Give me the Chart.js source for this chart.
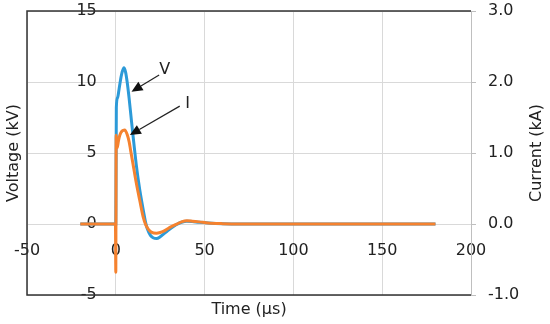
<!DOCTYPE html>
<html><head><meta charset="utf-8">
<script src="https://cdn.jsdelivr.net/npm/chart.js@4.4.1/dist/chart.umd.min.js"></script>
<style>html,body{margin:0;padding:0;background:#fff}#wrap{width:550px;height:324px}</style>
</head><body><div id="wrap"><canvas id="c" width="550" height="324"></canvas></div>
<script>
// Voltage series: time (µs) and voltage (kV)
const timeV = [-20, -0.05, 0, 0.3, 1, 1.9, 3.2, 4.5, 5.5, 6.4, 7.5, 8.5, 9.5, 10.5, 11.5, 12.5, 13.5, 14.5, 15.5, 16.8, 17.8, 19.5, 21, 23, 25, 27, 29, 31, 34, 37, 40, 43, 47, 52, 60, 70, 180];
const voltageKV = [0, 0, 0, 8.2, 8.9, 9.55, 10.5, 11.0, 10.7, 10.0, 8.85, 7.65, 6.45, 5.3, 4.2, 3.25, 2.4, 1.65, 0.95, 0.1, -0.35, -0.8, -0.97, -1.02, -0.9, -0.7, -0.5, -0.3, -0.05, 0.12, 0.2, 0.18, 0.12, 0.07, 0.02, 0, 0];
// Current series: time (µs) and current (kA)
const timeI = [-20, -0.2, 0, 0.2, 0.7, 1.5, 2.25, 3.5, 5, 6.4, 7.5, 8.4, 10, 11.6, 13.5, 15.4, 17, 18.5, 20, 22.9, 25, 27, 29, 31, 34, 37, 40, 43, 47, 52, 60, 70, 180];
const currentKA = [0, 0, -0.68, 1.25, 1.07, 1.17, 1.25, 1.31, 1.325, 1.26, 1.16, 1.03, 0.8, 0.57, 0.33, 0.1, -0.02, -0.08, -0.115, -0.13, -0.12, -0.1, -0.07, -0.04, -0.005, 0.03, 0.045, 0.04, 0.03, 0.015, 0.005, 0, 0];
const xTicks = [-50, 0, 50, 100, 150, 200];
const yTicks = [-5, 0, 5, 10, 15];
const y1Ticks = [-1, 0, 1, 2, 3];
const xTitle = 'Time (µs)';
const yTitle = 'Voltage (kV)';
const y1Title = 'Current (kA)';
// annotations: [label, labelX, labelY, tailX, tailY, tipX, tipY] in (µs, kV)
const notes = [
  ['V', 27.6, 10.85, 24.4, 10.5, 8.85, 9.32],
  ['I', 40.4, 8.45, 36, 8.3, 7.9, 6.27]
];

const FONT = 'DejaVu Sans';
const TXT = '#222';
const GRID = '#d9d9d9';

const pts = (ts, arr) => ts.map((t, i) => ({x: t, y: arr[i]}));

const framePlugin = {
  id: 'frame',
  afterDatasetsDraw(chart) {
    const {ctx, chartArea: a} = chart;
    ctx.save();
    ctx.lineWidth = 1.5;
    ctx.strokeStyle = '#333';
    ctx.beginPath();
    ctx.moveTo(a.right, a.top); ctx.lineTo(a.left, a.top); ctx.lineTo(a.left, a.bottom); ctx.lineTo(a.right, a.bottom);
    ctx.stroke();
    // annotations
    const xs = chart.scales.x, ys = chart.scales.y;
    ctx.font = '16px ' + FONT;
    ctx.fillStyle = TXT;
    ctx.textAlign = 'center';
    ctx.textBaseline = 'middle';
    notes.forEach(n => {
      const lx = xs.getPixelForValue(n[1]), ly = ys.getPixelForValue(n[2]);
      ctx.fillText(n[0], lx, ly);
      const tx = xs.getPixelForValue(n[3]), ty = ys.getPixelForValue(n[4]);
      const px = xs.getPixelForValue(n[5]), py = ys.getPixelForValue(n[6]);
      const ang = Math.atan2(py - ty, px - tx);
      const hl = 11, hw = 5;
      const bx = px - hl * Math.cos(ang), by = py - hl * Math.sin(ang);
      ctx.strokeStyle = '#222'; ctx.lineWidth = 1.2;
      ctx.beginPath(); ctx.moveTo(tx, ty); ctx.lineTo(bx, by); ctx.stroke();
      ctx.beginPath();
      ctx.moveTo(px, py);
      ctx.lineTo(bx + hw * Math.sin(ang), by - hw * Math.cos(ang));
      ctx.lineTo(bx - hw * Math.sin(ang), by + hw * Math.cos(ang));
      ctx.closePath(); ctx.fillStyle = '#111'; ctx.fill();
      ctx.fillStyle = TXT;
    });
    // axis titles
    ctx.font = '16px ' + FONT;
    ctx.textAlign = 'center'; ctx.textBaseline = 'middle';
    ctx.fillText(xTitle, (a.left + a.right) / 2, 310);
    ctx.save(); ctx.translate(14, (a.top + a.bottom) / 2); ctx.rotate(-Math.PI / 2); ctx.fillText(yTitle, 0, 0); ctx.restore();
    ctx.save(); ctx.translate(537, (a.top + a.bottom) / 2); ctx.rotate(-Math.PI / 2); ctx.fillText(y1Title, 0, 0); ctx.restore();
    ctx.restore();
  }
};

new Chart(document.getElementById('c'), {
  type: 'scatter',
  data: {
    datasets: [
      {label: 'I', data: pts(timeI, currentKA), yAxisID: 'y1', showLine: true, borderColor: '#F5822F', backgroundColor: '#F5822F', borderWidth: 3, pointRadius: 0, cubicInterpolationMode: 'monotone', order: 0},
      {label: 'V', data: pts(timeV, voltageKV), yAxisID: 'y', showLine: true, borderColor: '#2C9AD8', backgroundColor: '#2C9AD8', borderWidth: 3, pointRadius: 0, cubicInterpolationMode: 'monotone', order: 1}
    ]
  },
  options: {
    responsive: false, animation: false, devicePixelRatio: 1,
    layout: {padding: {left: 27, top: 11, bottom: 29, right: 0}},
    plugins: {legend: {display: false}, tooltip: {enabled: false}},
    scales: {
      x: {type: 'linear', position: {y: -1.2}, min: -50, max: 200,
          afterBuildTicks: s => { s.ticks = xTicks.map(v => ({value: v})); },
          afterFit: s => { s.height = 0; s.paddingLeft = 0; s.paddingRight = 0; },
          grid: {color: GRID, drawTicks: false, lineWidth: 1},
          border: {display: false},
          ticks: {color: TXT, font: {family: FONT, size: 16}, padding: 0, maxRotation: 0}},
      y: {type: 'linear', position: {x: -10.7}, min: -5, max: 15,
          afterBuildTicks: s => { s.ticks = yTicks.map(v => ({value: v})); },
          afterFit: s => { s.width = 0; s.paddingTop = 0; s.paddingBottom = 0; },
          grid: {color: GRID, drawTicks: false, lineWidth: 1},
          border: {display: false},
          ticks: {color: TXT, font: {family: FONT, size: 16}, padding: 0}},
      y1: {type: 'linear', position: 'right', min: -1, max: 3,
          afterBuildTicks: s => { s.ticks = y1Ticks.map(v => ({value: v})); },
          afterFit: s => { s.width = 79; s.paddingTop = 0; s.paddingBottom = 0; },
          grid: {drawOnChartArea: false, color: '#bfbfbf', tickLength: 5},
          border: {color: '#bfbfbf', width: 1},
          ticks: {color: TXT, font: {family: FONT, size: 16}, padding: 12, callback: v => v.toFixed(1)}}
    }
  },
  plugins: [framePlugin]
});
</script></body></html>
